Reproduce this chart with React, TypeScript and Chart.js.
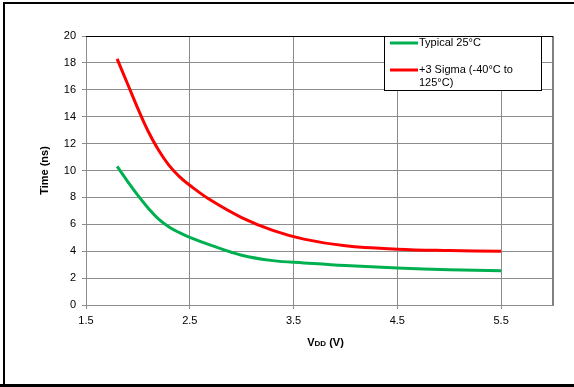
import React, { useEffect, useRef } from "react";
import { Chart, registerables } from "chart.js";

Chart.register(...registerables);

const vdd = [1.8, 1.9, 2.0, 2.1, 2.2, 2.3, 2.4, 2.5, 2.7, 3.0, 3.3, 3.6, 4.0, 4.5, 5.0, 5.5];
const typical25 = [10.3, 9.2, 8.15, 7.2, 6.38, 5.8, 5.38, 5.03, 4.45, 3.7, 3.3, 3.13, 2.93, 2.75, 2.63, 2.55];
const sigma3 = [18.3, 16.45, 14.6, 12.9, 11.5, 10.38, 9.55, 8.9, 7.8, 6.5, 5.55, 4.9, 4.4, 4.15, 4.05, 4.0];
const xTicks = [1.5, 2.5, 3.5, 4.5, 5.5];
const seriesNames = ["Typical 25°C", "+3 Sigma (-40°C to 125°C)"];
const seriesColors = ["#00b050", "#ff0000"];

const FONT = "'Liberation Sans', Arial, sans-serif";

export default function App() {
  const ref = useRef<HTMLCanvasElement>(null);
  useEffect(() => {
    document.body.style.margin = "0";
    const canvas = ref.current!;
    const decor = {
      id: "decor",
      afterDraw(chart: any) {
        const ctx = chart.ctx;
        const a = chart.chartArea;
        ctx.save();
        // right plot border
        ctx.strokeStyle = "#808080";
        ctx.lineWidth = 2;
        ctx.beginPath();
        ctx.moveTo(a.right, a.top);
        ctx.lineTo(a.right, a.bottom);
        ctx.stroke();
        // top plot border
        ctx.strokeStyle = "#000";
        ctx.lineWidth = 1;
        ctx.beginPath();
        ctx.moveTo(a.left, a.top + 0.5);
        ctx.lineTo(a.right, a.top + 0.5);
        ctx.stroke();
        // outer frame
        ctx.lineWidth = 2;
        ctx.beginPath();
        ctx.moveTo(4, 600);
        ctx.lineTo(4, 3);
        ctx.lineTo(600, 3);
        ctx.stroke();
        ctx.lineWidth = 3;
        ctx.beginPath();
        ctx.moveTo(0, 385.5);
        ctx.lineTo(600, 385.5);
        ctx.stroke();
        // legend
        const lx = 384, ly = a.top, lw = 157, lh = 54;
        ctx.fillStyle = "#fff";
        ctx.fillRect(lx, ly, lw, lh);
        ctx.strokeStyle = "#000";
        ctx.lineWidth = 1;
        ctx.strokeRect(lx + 0.5, ly + 0.5, lw, lh);
        ctx.font = `11px ${FONT}`;
        ctx.textBaseline = "middle";
        ctx.textAlign = "left";
        ctx.lineWidth = 3;
        const rows = [
          { y: ly + 7, lines: [seriesNames[0]], c: seriesColors[0] },
          { y: ly + 34, lines: ["+3 Sigma (-40°C to", "125°C)"], c: seriesColors[1] },
        ];
        rows.forEach((r) => {
          ctx.strokeStyle = r.c;
          ctx.beginPath();
          ctx.moveTo(lx + 6, r.y);
          ctx.lineTo(lx + 34, r.y);
          ctx.stroke();
          ctx.fillStyle = "#000";
          r.lines.forEach((t, i) => ctx.fillText(t, lx + 35, r.y + i * 13));
        });
        // axis titles
        ctx.fillStyle = "#000";
        ctx.save();
        ctx.translate(45, (a.top + a.bottom) / 2);
        ctx.rotate(-Math.PI / 2);
        ctx.textAlign = "center";
        ctx.font = `bold 11px ${FONT}`;
        ctx.fillText("Time (ns)", 0, 0);
        ctx.restore();
        // VDD (V)
        const parts = [
          { t: "V", f: `bold 11px ${FONT}` },
          { t: "DD", f: `bold 8px ${FONT}` },
          { t: " (V)", f: `bold 11px ${FONT}` },
        ];
        let total = 0;
        parts.forEach((p) => { ctx.font = p.f; total += ctx.measureText(p.t).width; });
        let x = (a.left + a.right) / 2 - total / 2 + 6;
        ctx.textAlign = "left";
        ctx.textBaseline = "alphabetic";
        parts.forEach((p) => {
          ctx.font = p.f;
          ctx.fillText(p.t, x, 346);
          x += ctx.measureText(p.t).width;
        });
        ctx.restore();
      },
    };
    const chart = new Chart(canvas, {
      type: "scatter",
      data: {
        datasets: [
          {
            label: seriesNames[0],
            data: vdd.map((v, i) => ({ x: v, y: typical25[i] })),
            borderColor: seriesColors[0],
            backgroundColor: seriesColors[0],
            showLine: true,
            borderWidth: 3,
            pointRadius: 0,
            tension: 0.4,
          },
          {
            label: seriesNames[1],
            data: vdd.map((v, i) => ({ x: v, y: sigma3[i] })),
            borderColor: seriesColors[1],
            backgroundColor: seriesColors[1],
            showLine: true,
            borderWidth: 3,
            pointRadius: 0,
            tension: 0.4,
          },
        ],
      },
      options: {
        animation: false,
        responsive: false,
        layout: { padding: { left: 0, right: 21, top: 36, bottom: 0 } },
        plugins: { legend: { display: false }, tooltip: { enabled: false } },
        scales: {
          x: {
            type: "linear",
            min: 1.5,
            max: 6,
            afterBuildTicks: (s: any) => { s.ticks = xTicks.map((v) => ({ value: v })); },
            afterFit: (s: any) => { s.height = 82; },
            ticks: { color: "#000", font: { family: FONT, size: 11 }, padding: 5, maxRotation: 0, callback: (v: any) => Number(v).toFixed(1) },
            grid: { color: "#8c8c8c", lineWidth: 1, tickLength: 4 },
            border: { color: "#8c8c8c", width: 1 },
          },
          y: {
            min: 0,
            max: 20,
            ticks: { stepSize: 2, color: "#000", font: { family: FONT, size: 11 }, padding: 6 },
            afterFit: (s: any) => { s.width = 86; },
            grid: { color: "#8c8c8c", lineWidth: 1, tickLength: 4 },
            border: { color: "#8c8c8c", width: 1 },
          },
        },
      },
      plugins: [decor],
    } as any);
    return () => chart.destroy();
  }, []);
  return <canvas ref={ref} width={574} height={387} style={{ display: "block" }} />;
}
